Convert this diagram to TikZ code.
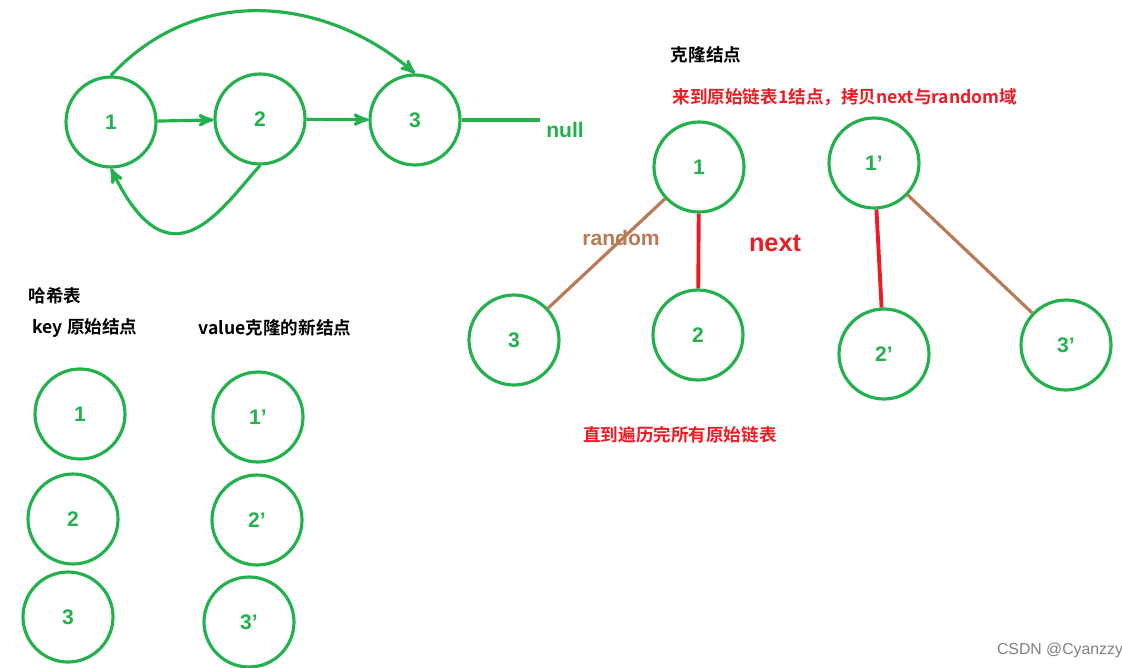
\documentclass[tikz,border=0pt]{standalone}
\usepackage{fontspec}
\setmainfont{Liberation Sans}
\newfontfamily\cjk{Noto Sans CJK SC}[BoldFont={Noto Sans CJK SC Bold}]
\usetikzlibrary{arrows,positioning}
\definecolor{lgreen}{RGB}{34,177,76}
\definecolor{lred}{RGB}{237,28,36}
\definecolor{lbrown}{RGB}{185,122,87}

\begin{document}
\begin{tikzpicture}
  [x=0.02cm,y=-0.02cm,>=stealth',
   lnode/.style={circle,draw=lgreen,line width=1.8pt,minimum size=1.8cm,
     text=lgreen,font=\bfseries\large},
   link/.style={draw=lgreen,line width=1.8pt},
   rtext/.style={text=lred,font=\cjk\bfseries},
   btext/.style={font=\cjk\bfseries}]
  \useasboundingbox (0,0) rectangle (1122,667);

  % linked list
  \node [lnode] (a1) at (111,122) {1};
  \node [lnode] (a2) at (260,119) {2};
  \node [lnode] (a3) at (415,120) {3};
  \node [text=lgreen,font=\bfseries\large] (null) at (565,130) {null};
  \coordinate (nullend) at (540,120);
  \draw [link,->] (a1) -- (a2);
  \draw [link,->] (a2) -- (a3);
  \draw [link] (a3) -- (nullend);
  \draw [link,->] (a1.north) .. controls (200,-20) and (330,0) .. (a3.north);
  \draw [link,->] (a2.south) .. controls (220,210) and (170,290) .. (a1.south);

  % cloning
  \node [btext] (title) at (706,55) {克隆结点};
  \node [rtext] (copy) at (845,97) {来到原始链表1结点，拷贝next与random域};
  \node [lnode] (c1)  at (699,167) {1};
  \node [lnode] (c1c) at (874,163) {1'};
  \node [lnode] (c3)  at (514,340) {3};
  \node [lnode] (c2)  at (698,335) {2};
  \node [lnode] (c2c) at (884,354) {2'};
  \node [lnode] (c3c) at (1066,345) {3'};
  \draw [draw=lbrown,line width=1.8pt] (c1) -- (c3);
  \draw [draw=lred,line width=2.2pt] (c1) -- (c2);
  \draw [draw=lred,line width=2.2pt] (c1c) -- (c2c);
  \draw [draw=lbrown,line width=1.8pt] (c1c) -- (c3c);
  \node [text=lbrown,font=\bfseries\large] (rnd) at (621,238) {random};
  \node [text=lred,font=\bfseries\Large] (nxt) at (775,243) {next};
  \node [rtext] (done) at (680,435) {直到遍历完所有原始链表};

  % hash table
  \node [btext] (hash) at (55,296) {哈希表};
  \node [btext] (key) at (85,328) {key 原始结点};
  \node [btext] (val) at (275,328) {value克隆的新结点};
  \node [lnode] (k1) at (80,414) {1};
  \node [lnode] (k2) at (73,519) {2};
  \node [lnode] (k3) at (68,617) {3};
  \node [lnode] (v1) at (258,417) {1'};
  \node [lnode] (v2) at (257,520) {2'};
  \node [lnode] (v3) at (249,622) {3'};

  \node [text=gray,font=\small] (mark) at (1060,650) {CSDN @Cyanzzy};
\end{tikzpicture}
\end{document}
